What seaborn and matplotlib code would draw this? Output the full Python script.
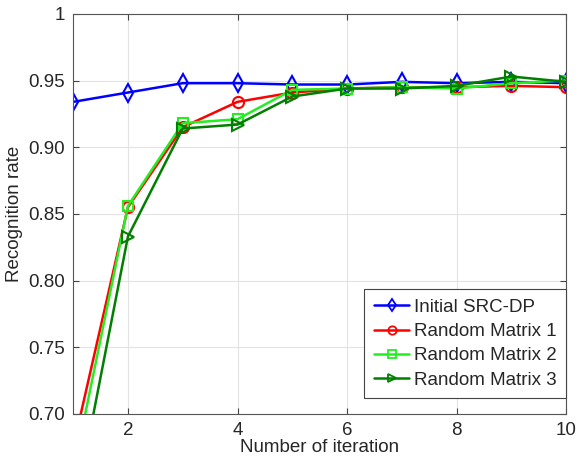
import pandas as pd
import numpy as np
import matplotlib
matplotlib.use('Agg')
import matplotlib.pyplot as plt
import seaborn as sns

# values
iterations = [1, 2, 3, 4, 5, 6, 7, 8, 9, 10]
initial_src_dp = [0.934, 0.941, 0.948, 0.948, 0.947, 0.947, 0.949, 0.948, 0.949, 0.948]
random_matrix_1 = [0.675, 0.855, 0.915, 0.934, 0.941, 0.944, 0.945, 0.945, 0.946, 0.945]
random_matrix_2 = [0.656, 0.856, 0.918, 0.921, 0.943, 0.944, 0.945, 0.944, 0.948, 0.950]
random_matrix_3 = [0.622, 0.833, 0.914, 0.917, 0.938, 0.944, 0.944, 0.946, 0.953, 0.949]

series_names = ["Initial SRC-DP", "Random Matrix 1", "Random Matrix 2", "Random Matrix 3"]
yticks = [0.70, 0.75, 0.80, 0.85, 0.90, 0.95, 1.0]
ytick_labels = ["0.70", "0.75", "0.80", "0.85", "0.90", "0.95", "1"]
xticks = [2, 4, 6, 8, 10]


def main():
    sns.set_style("ticks")
    plt.rcParams['font.family'] = ['Liberation Sans', 'DejaVu Sans']

    df = pd.DataFrame({
        "iteration": iterations * 4,
        "rate": initial_src_dp + random_matrix_1 + random_matrix_2 + random_matrix_3,
        "series": sum([[n] * len(iterations) for n in series_names], []),
    })

    colors = ["#0000ff", "#ff0000", "#22ee22", "#007f00"]
    markers = ["d", "o", "s", ">"]
    msizes = [9, 8, 7.5, 8]

    fig = plt.figure(figsize=(5.76, 4.61), dpi=100)
    ax = fig.add_axes([0.127, 0.102, 0.856, 0.868])

    for name, c, m, ms in zip(series_names, colors, markers, msizes):
        sub = df[df["series"] == name]
        sns.lineplot(data=sub, x="iteration", y="rate", ax=ax, color=c,
                     marker=m, markersize=ms, markerfacecolor="none",
                     markeredgecolor=c, markeredgewidth=1.5, linewidth=1.8,
                     legend=False)
    for line, name in zip(ax.lines, series_names):
        line.set_label(name)

    ax.set_xlim(1, 10)
    ax.set_ylim(0.70, 1.0)
    ax.set_xticks(xticks)
    ax.set_yticks(yticks)
    ax.set_yticklabels(ytick_labels)
    ax.grid(True, color="#e3e3e3", linewidth=0.8)
    ax.tick_params(direction="in", top=True, right=True, labelsize=13.5,
                   color="#444444", length=4, pad=6)
    for s in ax.spines.values():
        s.set_color("#555555")
        s.set_linewidth(0.8)

    ax.set_xlabel("Number of iteration", fontsize=13.5, labelpad=0)
    ax.set_ylabel("Recognition rate", fontsize=13.5, labelpad=4)

    leg = ax.legend(handles=ax.lines[:4], loc="lower right",
                    bbox_to_anchor=(1.0, 0.04),
                    borderaxespad=0, fontsize=13.5, fancybox=False,
                    edgecolor="#444444", framealpha=1, handlelength=1.9,
                    labelspacing=0.38, handletextpad=0.25, borderpad=0.5)
    leg.get_frame().set_linewidth(0.8)
    for h in leg.legend_handles:
        h.set_markersize(6)
        h.set_markerfacecolor("none")
        h.set_markeredgewidth(1.3)

    fig.savefig("out.png", dpi=100)
    plt.close(fig)


if __name__ == "__main__":
    main()
